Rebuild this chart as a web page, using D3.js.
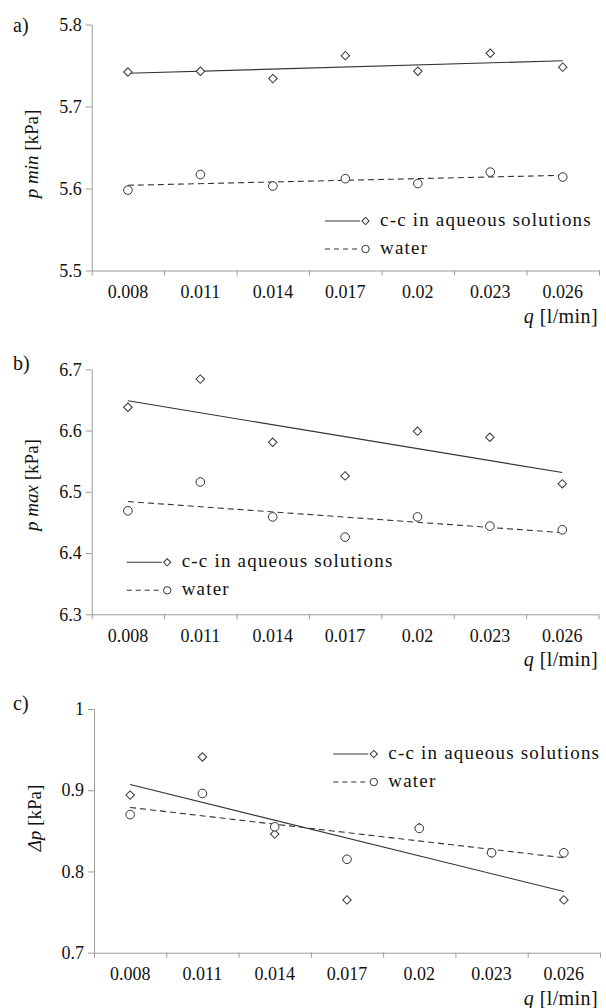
<!DOCTYPE html>
<html>
<head>
<meta charset="utf-8">
<script src="https://cdn.jsdelivr.net/npm/d3@7"></script>
<style>
	body { margin: 0; background: #fff; }
	svg { display: block; font-family: "Liberation Serif", "Times New Roman", serif; }
	.axis path, .axis line { stroke: #9a9a9a; }
	.axis text { fill: #111; font-size: 18px; font-family: "Liberation Serif", "Times New Roman", serif; }
</style>
</head>
<body>
<div id="vis"></div>
<script>
// data
const categories = ["0.008", "0.011", "0.014", "0.017", "0.02", "0.023", "0.026"];

const pMinCC = [5.742, 5.743, 5.734, 5.762, 5.743, 5.765, 5.748];
const pMinWater = [5.598, 5.617, 5.603, 5.612, 5.606, 5.620, 5.614];

const pMaxCC = [6.638, 6.684, 6.581, 6.526, 6.599, 6.589, 6.513];
const pMaxWater = [6.469, 6.516, 6.459, 6.426, 6.459, 6.444, 6.438];

const dpCC = [0.894, 0.941, 0.846, 0.765, 0.854, 0.823, 0.765];
const dpWater = [0.870, 0.896, 0.855, 0.815, 0.853, 0.823, 0.823];

const pMinTicks = [5.5, 5.6, 5.7, 5.8];
const pMinTickLabels = ["5.5", "5.6", "5.7", "5.8"];
const pMaxTicks = [6.3, 6.4, 6.5, 6.6, 6.7];
const pMaxTickLabels = ["6.3", "6.4", "6.5", "6.6", "6.7"];
const dpTicks = [0.7, 0.8, 0.9, 1];
const dpTickLabels = ["0.7", "0.8", "0.9", "1"];

const seriesNames = ["c-c in aqueous solutions", "water"];

// frame
const FRAME_WIDTH = 606;
const FRAME_HEIGHT = 1008;
const INK = "#333";

const FRAME =
d3.select("#vis")
	.append("svg")
		.attr("width", FRAME_WIDTH)
		.attr("height", FRAME_HEIGHT);

// panel layout (pixels)
const PANELS = [
	{tag: "a)", cc: pMinCC, water: pMinWater, ticks: pMinTicks, tickLabels: pMinTickLabels,
	 yLabel: ["p min", " [kPa]"], left: 91.7, right: 599, top: 24.5, bottom: 270.5,
	 tagY: 32, yLabelX: 38, yLabelY: 154, legX: 325, legY: 221},
	{tag: "b)", cc: pMaxCC, water: pMaxWater, ticks: pMaxTicks, tickLabels: pMaxTickLabels,
	 yLabel: ["p max", " [kPa]"], left: 91.7, right: 598.5, top: 369.3, bottom: 614.3,
	 tagY: 370, yLabelX: 38, yLabelY: 485, legX: 126.7, legY: 562.3},
	{tag: "c)", cc: dpCC, water: dpWater, ticks: dpTicks, tickLabels: dpTickLabels,
	 yLabel: ["\u0394p", " [kPa]"], left: 94, right: 600, top: 709, bottom: 952.7,
	 tagY: 710, yLabelX: 41, yLabelY: 818, legX: 333.3, legY: 754}
];

// least squares trend line over category index
function trend(values) {
	const n = values.length;
	const mx = (n - 1) / 2;
	const my = d3.mean(values);
	let num = 0, den = 0;
	values.forEach((v, i) => { num += (i - mx) * (v - my); den += (i - mx) * (i - mx); });
	const slope = num / den;
	return [my - slope * mx, my + slope * (n - 1 - mx)];
}

const diamond = d3.symbol().type(d3.symbolSquare).size(36);

PANELS.forEach((p) => {
	const G = FRAME.append("g");

	const X_SCALE = d3.scaleBand()
						.domain(categories)
						.range([p.left, p.right]);
	const X_EDGE = d3.scaleLinear()
						.domain([0, categories.length])
						.range([p.left, p.right]);
	const Y_SCALE = d3.scaleLinear()
						.domain([d3.min(p.ticks), d3.max(p.ticks)])
						.range([p.bottom, p.top]);
	const cx = (i) => X_SCALE(categories[i]) + X_SCALE.bandwidth() / 2;

	// y axis
	G.append("g")
		.attr("class", "axis")
		.attr("transform", "translate(" + p.left + ",0)")
		.call(d3.axisLeft(Y_SCALE)
				.tickValues(p.ticks)
				.tickFormat((d, i) => p.tickLabels[i])
				.tickSize(6)
				.tickSizeOuter(0)
				.tickPadding(4));

	// x axis line with ticks between categories
	G.append("g")
		.attr("class", "axis")
		.attr("transform", "translate(0," + p.bottom + ")")
		.call(d3.axisBottom(X_EDGE)
				.tickValues(d3.range(categories.length + 1))
				.tickFormat("")
				.tickSize(5)
				.tickSizeOuter(0));

	// x labels centered in bands
	G.append("g")
		.attr("class", "axis")
		.attr("transform", "translate(0," + p.bottom + ")")
		.call(d3.axisBottom(X_SCALE).tickSize(0).tickPadding(15))
		.call((g) => g.select(".domain").remove());

	// trend lines
	[[p.cc, null], [p.water, "6,4"]].forEach(([vals, dash]) => {
		const [y0, y1] = trend(vals);
		G.append("line")
			.attr("x1", cx(0))
			.attr("x2", cx(vals.length - 1))
			.attr("y1", Y_SCALE(y0))
			.attr("y2", Y_SCALE(y1))
			.attr("stroke", INK)
			.attr("stroke-width", 1.1)
			.attr("stroke-dasharray", dash);
	});

	// points
	G.selectAll(".cc")
		.data(p.cc)
		.enter()
		.append("path")
			.attr("d", diamond)
			.attr("transform", (d, i) => "translate(" + cx(i) + "," + Y_SCALE(d) + ") rotate(45)")
			.attr("fill", "white")
			.attr("stroke", INK);

	G.selectAll(".water")
		.data(p.water)
		.enter()
		.append("circle")
			.attr("cx", (d, i) => cx(i))
			.attr("cy", (d) => Y_SCALE(d))
			.attr("r", 4.3)
			.attr("fill", "white")
			.attr("stroke", INK);

	// legend
	seriesNames.forEach((name, k) => {
		const ly = p.legY + k * 28;
		G.append("line")
			.attr("x1", p.legX)
			.attr("x2", p.legX + 35)
			.attr("y1", ly)
			.attr("y2", ly)
			.attr("stroke", INK)
			.attr("stroke-width", 1.1)
			.attr("stroke-dasharray", k == 0 ? null : "5,4");
		if (k == 0) {
			G.append("path")
				.attr("d", d3.symbol().type(d3.symbolSquare).size(26))
				.attr("transform", "translate(" + (p.legX + 40.5) + "," + ly + ") rotate(45)")
				.attr("fill", "white")
				.attr("stroke", INK);
		} else {
			G.append("circle")
				.attr("cx", p.legX + 40.5)
				.attr("cy", ly)
				.attr("r", 3.7)
				.attr("fill", "white")
				.attr("stroke", INK);
		}
		G.append("text")
			.attr("x", p.legX + 55)
			.attr("y", ly + 5)
			.attr("font-size", "19px")
			.attr("letter-spacing", "1.2px")
			.attr("fill", "#111")
			.text(name);
	});

	// panel tag
	G.append("text")
		.attr("x", 13)
		.attr("y", p.tagY)
		.attr("font-size", "20px")
		.attr("fill", "#111")
		.text(p.tag);

	// y label
	const YL = G.append("text")
		.attr("transform", "translate(" + p.yLabelX + "," + p.yLabelY + ") rotate(-90)")
		.attr("text-anchor", "middle")
		.attr("font-size", "19px")
		.attr("fill", "#111");
	YL.append("tspan").attr("font-style", "italic").text(p.yLabel[0]);
	YL.append("tspan").text(p.yLabel[1]);

	// x label
	const XL = G.append("text")
		.attr("x", 598)
		.attr("y", p.bottom + 52)
		.attr("text-anchor", "end")
		.attr("font-size", "20px")
		.attr("letter-spacing", "0.4px")
		.attr("fill", "#111");
	XL.append("tspan").attr("font-style", "italic").text("q");
	XL.append("tspan").text(" [l/min]");
});
</script>
</body>
</html>
